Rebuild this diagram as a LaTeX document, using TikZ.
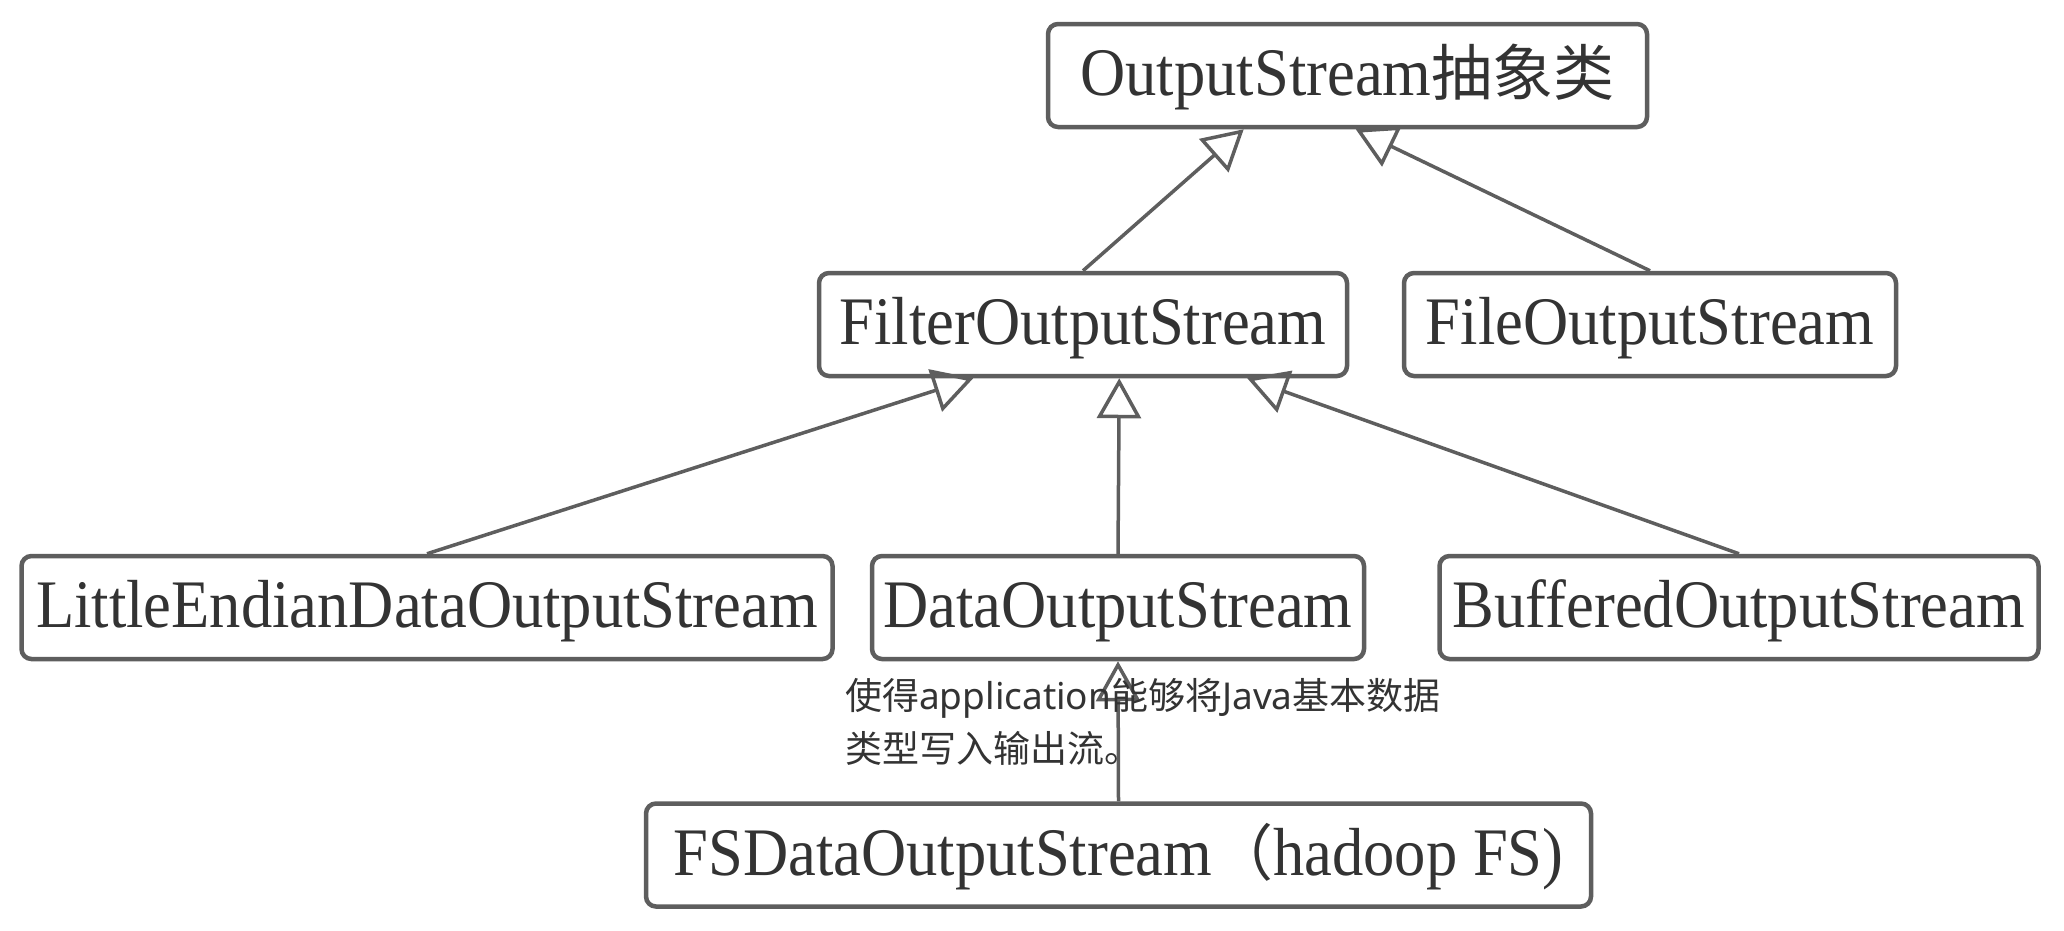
\documentclass[tikz,border=0pt]{standalone}
\usepackage{fontspec}
\setmainfont{Liberation Serif}[FakeStretch=0.92]
\newfontfamily\cjk{Noto Sans CJK SC}
\newfontfamily\lbl{Noto Sans}
\usetikzlibrary{arrows.meta}
\definecolor{edge}{HTML}{5E5E5E}
\definecolor{txt}{HTML}{333333}
\newcommand{\bigcjk}[1]{{\cjk\fontsize{61}{70}\selectfont #1}}
\tikzset{
  classbox/.style={draw=edge, line width=4.5pt, rounded corners=10pt, fill=white,
    inner sep=0pt, minimum height=103pt, text=txt, text height=50pt, text depth=10pt,
    font=\fontsize{68}{80}\selectfont},
  inh/.style={draw=edge, line width=3.5pt,
    -{Triangle[open, length=40pt, width=44pt, line width=3.5pt]}},
  note/.style={text=txt, inner sep=0pt, align=left, anchor=west,
    font=\fontsize{37}{53}\selectfont}
}
\begin{document}
\begin{tikzpicture}[x=1pt, y=-1pt]
\useasboundingbox (0,0) rectangle (2064,930);
\node[classbox, minimum width=599pt] (os) at (1347.5,75.5) {OutputStream\bigcjk{抽象类}};
\node[classbox, minimum width=528pt] (filter) at (1083,324.5) {FilterOutputStream};
\node[classbox, minimum width=492pt] (file) at (1650,324.5) {FileOutputStream};
\node[classbox, minimum width=811pt] (le) at (427,607.5) {LittleEndianDataOutputStream};
\node[classbox, minimum width=492pt] (data) at (1118,607.5) {DataOutputStream};
\node[classbox, minimum width=599pt] (buf) at (1739,607.5) {BufferedOutputStream};
\node[classbox, minimum width=945pt] (fs) at (1118.5,855) {FSDataOutputStream\bigcjk{（}hadoop FS)};

\draw[inh] (filter.north) -- ([xshift=198pt]os.south west);
\draw[inh] (file.north) -- ([xshift=310pt]os.south west);
\draw[inh] (le.north) -- ([xshift=156.5pt]filter.south west);
\draw[inh] (data.north) -- ([xshift=302.5pt]filter.south west);
\draw[inh] (buf.north) -- ([xshift=430.5pt]filter.south west);
\draw[inh] (fs.north) -- (data.south);

\node[note] (lab) at (845,722) {{\cjk 使得}{\lbl application}{\cjk 能够将}{\lbl Java}{\cjk 基本数据}\\{\cjk 类型写入输出流。}};
\end{tikzpicture}
\end{document}
